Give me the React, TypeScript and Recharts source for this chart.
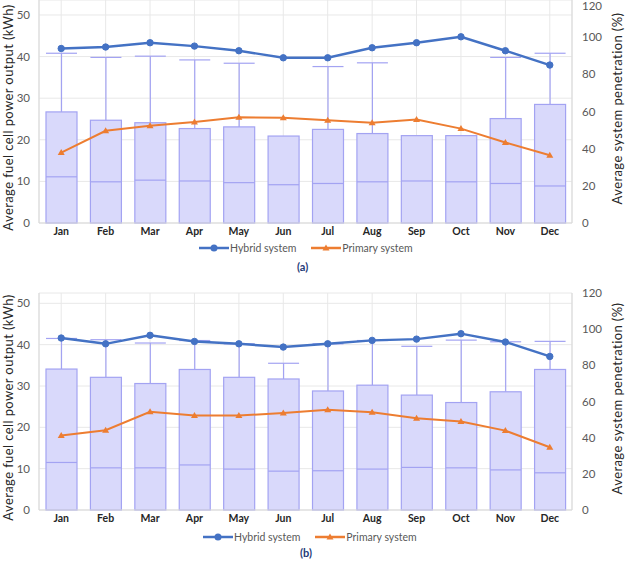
import { ComposedChart, Bar, Line, XAxis, YAxis, CartesianGrid } from "recharts";

const months = ["Jan", "Feb", "Mar", "Apr", "May", "Jun", "Jul", "Aug", "Sep", "Oct", "Nov", "Dec"];
const leftTicks = [0, 10, 20, 30, 40, 50];
const rightTicks = [0, 20, 40, 60, 80, 100, 120];

// (a)
const boxTopA = [26.7, 24.7, 24.1, 22.7, 23.1, 20.9, 22.5, 21.5, 21.0, 21.0, 25.1, 28.5];
const medianA = [11.1, 9.9, 10.3, 10.1, 9.7, 9.2, 9.5, 9.9, 10.1, 9.9, 9.5, 8.9];
const maxA = [40.8, 39.8, 40.1, 39.2, 38.4, null, 37.6, 38.5, null, null, 39.8, 40.8];
const hybridA = [93.9, 94.7, 97.0, 95.2, 92.7, 88.9, 88.9, 94.3, 97.0, 100.2, 92.7, 85.0];
const primaryA = [37.9, 49.6, 52.3, 54.3, 56.9, 56.6, 55.3, 53.9, 55.7, 50.8, 43.3, 36.5];

// (b)
const boxTopB = [34.1, 32.1, 30.6, 34.0, 32.1, 31.7, 28.8, 30.2, 27.8, 26.0, 28.6, 34.0];
const medianB = [11.5, 10.2, 10.2, 10.9, 9.9, 9.4, 9.5, 9.9, 10.3, 10.2, 9.7, 9.0];
const maxB = [41.5, 41.2, 40.4, 41.0, 40.2, 35.5, 40.2, 41.0, 39.6, 41.1, 40.7, 40.8];
const hybridB = [95.1, 91.9, 96.6, 93.2, 91.9, 90.1, 91.9, 93.8, 94.5, 97.5, 92.9, 84.9];
const primaryB = [41.2, 44.1, 54.3, 52.2, 52.2, 53.7, 55.4, 54.1, 50.8, 48.9, 43.9, 34.7];

const HYBRID = "#4472c4";
const PRIMARY = "#ed7d31";
const BOX_FILL = "#d9d9fb";
const BOX_STROKE = "#a3a3f2";
const GRID = "#e8e8e8";
const FONT = "Lato, 'Open Sans', sans-serif";

const build = (top: number[], med: number[], max: (number | null)[], hyb: number[], pri: number[]) =>
  months.map((m, i) => ({ month: m, top: top[i], median: med[i], max: max[i], hybrid: hyb[i], primary: pri[i] }));

const dataA = build(boxTopA, medianA, maxA, hybridA, primaryA);
const dataB = build(boxTopB, medianB, maxB, hybridB, primaryB);

function BoxShape(props: any) {
  const { x, y, width, height, payload } = props;
  if (!height || !payload) return null;
  const unit = height / payload.top;
  const base = y + height;
  const cx = x + width / 2;
  const medY = base - payload.median * unit;
  const maxY = payload.max != null ? base - payload.max * unit : null;
  return (
    <g>
      {maxY !== null && (
        <>
          <line x1={cx} x2={cx} y1={y} y2={maxY} stroke={BOX_STROKE} strokeWidth={1.2} />
          <line x1={x} x2={x + width} y1={maxY} y2={maxY} stroke={BOX_STROKE} strokeWidth={1.2} />
        </>
      )}
      <rect x={x} y={y} width={width} height={height} fill={BOX_FILL} stroke={BOX_STROKE} strokeWidth={1.2} />
      <line x1={x} x2={x + width} y1={medY} y2={medY} stroke={BOX_STROKE} strokeWidth={1.2} />
    </g>
  );
}

function TriangleDot(props: any) {
  const { cx, cy } = props;
  if (cx == null || cy == null) return null;
  return <path d={`M${cx},${cy - 3.5} L${cx + 3.5},${cy + 2.5} L${cx - 3.5},${cy + 2.5} Z`} fill={PRIMARY} />;
}

const leftTitle = (p: any) => {
  const vb = p.viewBox;
  const cy = vb.y + vb.height / 2 + 6;
  return (
    <text x={8} y={cy} transform={`rotate(-90, 8, ${cy})`} textAnchor="middle" dominantBaseline="central"
      fontFamily={FONT} fontSize={13} fill="#262626" letterSpacing={0.4}>
      Average fuel cell power output (kWh)
    </text>
  );
};

const rightTitle = (p: any) => {
  const vb = p.viewBox;
  const cy = vb.y + vb.height / 2 - 3;
  const x = 617;
  return (
    <text x={x} y={cy} transform={`rotate(-90, ${x}, ${cy})`} textAnchor="middle" dominantBaseline="central"
      fontFamily={FONT} fontSize={13} fill="#262626" letterSpacing={0.4}>
      Average system penetration (%)
    </text>
  );
};

const legendItems = [
  { name: "Hybrid system", color: HYBRID, marker: "circle" },
  { name: "Primary system", color: PRIMARY, marker: "triangle" },
];

function LegendRow({ left, top }: { left: number; top: number }) {
  return (
    <div style={{ position: "absolute", left, top, display: "flex", alignItems: "center", gap: 15, fontFamily: FONT, fontSize: 10.5, color: "#595959" }}>
      {legendItems.map((it) => (
        <div key={it.name} style={{ display: "flex", alignItems: "center" }}>
          <svg width={30} height={10}>
            <line x1={0} x2={30} y1={5} y2={5} stroke={it.color} strokeWidth={2.5} />
            {it.marker === "circle" ? (
              <circle cx={15} cy={5} r={3.5} fill={it.color} />
            ) : (
              <path d="M15,1.5 L18.5,7.5 L11.5,7.5 Z" fill={it.color} />
            )}
          </svg>
          <span style={{ marginLeft: 1 }}>{it.name}</span>
        </div>
      ))}
    </div>
  );
}

function Panel({ data, leftMax, marginTop, height }: { data: any[]; leftMax: number; marginTop: number; height: number }) {
  return (
    <ComposedChart width={626} height={height} data={data} margin={{ top: marginTop, right: 0, left: 0, bottom: 7 }}>
      <CartesianGrid yAxisId="left" stroke={GRID} strokeWidth={1} />
      <XAxis dataKey="month" height={30} tickSize={0} tickMargin={5} interval={0}
        stroke="#d9d9d9" tick={{ fontFamily: FONT, fontSize: 10.5, fontWeight: 700, fill: "#262626" }} />
      <YAxis yAxisId="left" width={39} domain={[0, leftMax]} ticks={leftTicks} tickSize={0} tickMargin={9}
        stroke="#d9d9d9" tick={{ fontFamily: FONT, fontSize: 11.5, fill: "#595959" }} label={{ content: leftTitle }} />
      <YAxis yAxisId="right" orientation="right" width={54} domain={[0, 120]} ticks={rightTicks} tickSize={0} tickMargin={10}
        stroke="#d9d9d9" tick={{ fontFamily: FONT, fontSize: 11.5, fill: "#595959" }} label={{ content: rightTitle }} />
      <Bar yAxisId="left" dataKey="top" barSize={31} shape={BoxShape} isAnimationActive={false} />
      <Line yAxisId="right" dataKey="hybrid" stroke={HYBRID} strokeWidth={2.4} type="linear"
        dot={{ r: 3.2, fill: HYBRID, stroke: HYBRID, strokeWidth: 1 }} isAnimationActive={false} />
      <Line yAxisId="right" dataKey="primary" stroke={PRIMARY} strokeWidth={2} type="linear"
        dot={<TriangleDot />} isAnimationActive={false} />
    </ComposedChart>
  );
}

export default function App() {
  return (
    <div style={{ position: "absolute", left: 0, top: 0, width: 626, height: 561, overflow: "hidden", background: "#fff" }}>
      <div style={{ position: "absolute", left: 0, top: 0 }}>
        <Panel data={dataA} leftMax={53.6} marginTop={0} height={260} />
      </div>
      <LegendRow left={199} top={242} />
      <div style={{ position: "absolute", left: 297, top: 260, fontFamily: FONT, fontSize: 11, fontWeight: 700, color: "#1f3a78" }}>(a)</div>
      <div style={{ position: "absolute", left: 0, top: 283 }}>
        <Panel data={dataB} leftMax={52.5} marginTop={10} height={264} />
      </div>
      <LegendRow left={203} top={531} />
      <div style={{ position: "absolute", left: 300, top: 546, fontFamily: FONT, fontSize: 11, fontWeight: 700, color: "#1f3a78" }}>(b)</div>
    </div>
  );
}
